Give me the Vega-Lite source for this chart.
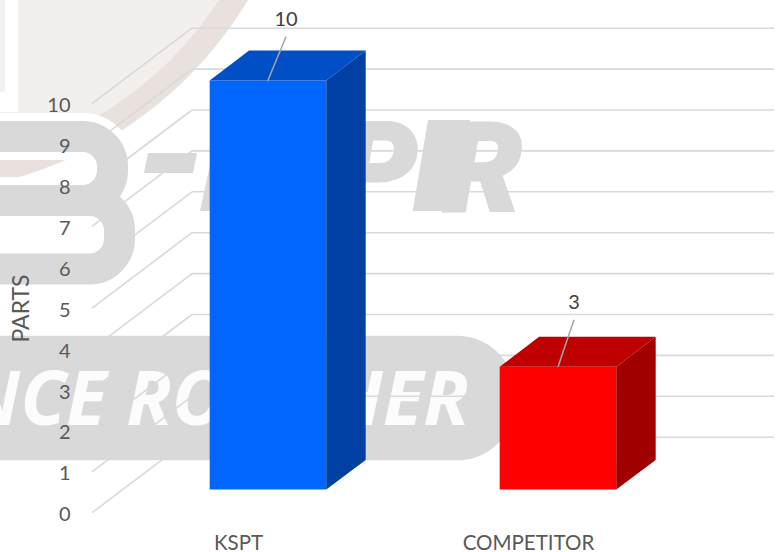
{"$schema":"https://vega.github.io/schema/vega-lite/v6.json","width":700,"height":552,"padding":{"left":78,"top":0,"right":0,"bottom":0},"autosize":{"type":"none"},"background":"white","view":{"stroke":null},
"config":{"axis":{"labelFont":"Lato","titleFont":"Lato","labelColor":"#595959","titleColor":"#595959"}},
"encoding":{"x":{"field":"x","type":"quantitative","scale":{"domain":[-0.5517,1.8621],"nice":false,"zero":false},"axis":{"values":[0,1],"labelExpr":"datum.value==0?'KSPT':'COMPETITOR'","title":null,"ticks":false,"domain":false,"grid":false,"labelFontSize":20.5,"offset":-21,"labelPadding":2,"zindex":1}},
"y":{"field":"y","type":"quantitative","scale":{"domain":[-0.9609,12.5355],"nice":false,"zero":false},"axis":{"values":[0,1,2,3,4,5,6,7,8,9,10],"title":"PARTS","titleFontSize":23,"titleFontWeight":"normal","titleX":-45,"titleY":308,"ticks":false,"domain":false,"grid":false,"labelFontSize":20,"labelPadding":8,"labelOffset":2,"zindex":1}}},
"layer":[
{"data":{"values":[{"x":-1.1345,"y":17.474}]},"mark":{"type":"point","filled":true,"size":622900,"color":"#e8e1de","opacity":1}},
{"data":{"values":[{"x":-1.1345,"y":17.474}]},"mark":{"type":"point","filled":true,"size":547600,"color":"#f2efed","opacity":1}},
{"data":{"values":[{"x":-1.3379,"x2":-0.7586,"y":12.78,"y2":9.797}]},"mark":{"type":"rect","color":"white"},"encoding":{"x2":{"field":"x2"},"y2":{"field":"y2"}}},
{"data":{"values":[{"x":-1.3379,"x2":-0.8034,"y":12.78,"y2":10.29}]},"mark":{"type":"rect","color":"#eff1f2"},"encoding":{"x2":{"field":"x2"},"y2":{"field":"y2"}}},
{"data":{"values":[{"x":-1.3379,"x2":-0.4328,"y":9.198,"y2":7.633},{"x":-1.3379,"x2":-0.4086,"y":7.633,"y2":5.958}]},"mark":{"type":"rect","fillOpacity":0,"stroke":"white","strokeWidth":47,"cornerRadius":30},"encoding":{"x2":{"field":"x2"},"y2":{"field":"y2"}}},
{"data":{"values":[{"x":-1.3379,"x2":-0.4328,"y":9.198,"y2":7.633},{"x":-1.3379,"x2":-0.4086,"y":7.633,"y2":5.958}]},"mark":{"type":"rect","fillOpacity":0,"stroke":"#d9d9d9","strokeWidth":31,"cornerRadius":30},"encoding":{"x2":{"field":"x2"},"y2":{"field":"y2"}}},
{"data":{"values":[{"x":-1.3379,"x2":0.9552,"y":4.3276,"y2":1.2812}]},"mark":{"type":"rect","color":"#d9d9d9","cornerRadiusTopRight":58,"cornerRadiusBottomRight":58},"encoding":{"x2":{"field":"x2"},"y2":{"field":"y2"}}},
{"data":{"values":[{"x":0.7966,"y":2.1443,"t":"NCE ROUGHER"}]},"mark":{"type":"text","font":"Open Sans","fontWeight":"bold","fontStyle":"italic","fontSize":75,"align":"right","baseline":"alphabetic","color":"white","opacity":0.92},"encoding":{"text":{"field":"t"}}},
{"data":{"values":[{"x":0.9793,"y":7.376,"t":"R"},{"x":0.6172,"y":7.376,"t":"P"}]},"mark":{"type":"text","font":"Roboto","fontWeight":900,"fontStyle":"italic","fontSize":124,"align":"right","baseline":"alphabetic","color":"#d9d9d9","stroke":"#d9d9d9","strokeWidth":3},"encoding":{"text":{"field":"t"}}},
{"data":{"values":[{"k":"a","y":8.795,"x":-0.3103,"x2":-0.1414},{"k":"a","y":8.306,"x":-0.3241,"x2":-0.1552},{"k":"b","y":8.501,"x":-0.0966,"x2":0.0414},{"k":"b","y":7.376,"x":-0.131,"x2":0.0069},{"k":"c","y":9.601,"x":0.6552,"x2":0.8},{"k":"c","y":7.376,"x":0.6024,"x2":0.7483}]},"mark":{"type":"area","orient":"horizontal","color":"#d9d9d9"},"encoding":{"x2":{"field":"x2"},"detail":{"field":"k"}}},
{"data":{"values":[
{"x":-0.5034,"x2":-0.1586,"y":0,"y2":1.846},{"x":-0.5034,"x2":-0.1586,"y":1,"y2":2.846},{"x":-0.5034,"x2":-0.1586,"y":2,"y2":3.846},{"x":-0.5034,"x2":-0.1586,"y":3,"y2":4.846},{"x":-0.5034,"x2":-0.1586,"y":4,"y2":5.846},{"x":-0.5034,"x2":-0.1586,"y":5,"y2":6.846},{"x":-0.5034,"x2":-0.1586,"y":6,"y2":7.846},{"x":-0.5034,"x2":-0.1586,"y":7,"y2":8.846},{"x":-0.5034,"x2":-0.1586,"y":8,"y2":9.846},{"x":-0.5034,"x2":-0.1586,"y":9,"y2":10.846},{"x":-0.5034,"x2":-0.1586,"y":10,"y2":11.846},
{"x":-0.1586,"x2":1.848,"y":1.846,"y2":1.846},{"x":-0.1586,"x2":1.848,"y":2.846,"y2":2.846},{"x":-0.1586,"x2":1.848,"y":3.846,"y2":3.846},{"x":-0.1586,"x2":1.848,"y":4.846,"y2":4.846},{"x":-0.1586,"x2":1.848,"y":5.846,"y2":5.846},{"x":-0.1586,"x2":1.848,"y":6.846,"y2":6.846},{"x":-0.1586,"x2":1.848,"y":7.846,"y2":7.846},{"x":-0.1586,"x2":1.848,"y":8.846,"y2":8.846},{"x":-0.1586,"x2":1.848,"y":9.846,"y2":9.846},{"x":-0.1586,"x2":1.848,"y":10.846,"y2":10.846},{"x":-0.1586,"x2":1.848,"y":11.846,"y2":11.846}]},
"mark":{"type":"rule","color":"#d9d9d9","strokeWidth":1.6},"encoding":{"x2":{"field":"x2"},"y2":{"field":"y2"}}},
{"data":{"values":[{"name":"KSPT","parts":10,"x":-0.0976,"x2":0.3044,"y":10.567,"y2":0.567},{"name":"COMPETITOR","parts":3,"x":0.9024,"x2":1.3044,"y":3.567,"y2":0.567}]},"mark":{"type":"rect"},"encoding":{"x2":{"field":"x2"},"y2":{"field":"y2"},"color":{"field":"name","type":"nominal","scale":{"domain":["KSPT","COMPETITOR"],"range":["#0066ff","#ff0000"]},"legend":null}}},
{"data":{"values":[{"f":"KSPT side","x":0.3044,"y":10.567,"y2":0.567},{"f":"KSPT side","x":0.4403,"y":11.301,"y2":1.289},{"f":"COMP side","x":1.3044,"y":3.567,"y2":0.567},{"f":"COMP side","x":1.4403,"y":4.301,"y2":1.289}]},"mark":{"type":"area","orient":"vertical"},"encoding":{"y2":{"field":"y2"},"fill":{"field":"f","type":"nominal","scale":{"domain":["KSPT side","COMP side","KSPT top","COMP top"],"range":["#0040a3","#a00000","#004fc6","#bf0000"]},"legend":null}}},
{"data":{"values":[{"f":"KSPT top","y":10.567,"x":-0.0976,"x2":0.3044},{"f":"KSPT top","y":11.301,"x":0.0383,"x2":0.4403},{"f":"COMP top","y":3.567,"x":0.9024,"x2":1.3044},{"f":"COMP top","y":4.301,"x":1.0383,"x2":1.4403}]},"mark":{"type":"area","orient":"horizontal"},"encoding":{"x2":{"field":"x2"},"fill":{"field":"f","type":"nominal","legend":null}}},
{"data":{"values":[{"x":0.1024,"x2":0.1655,"y":10.555,"y2":11.638},{"x":1.1034,"x2":1.1586,"y":3.562,"y2":4.719}]},"mark":{"type":"rule","color":"#a6a6a6","strokeWidth":1.5},"encoding":{"x2":{"field":"x2"},"y2":{"field":"y2"}}},
{"data":{"values":[{"x":0.1655,"y":11.638,"parts":10},{"x":1.1586,"y":4.719,"parts":3}]},"mark":{"type":"text","font":"Lato","fontSize":20,"dy":-17,"color":"#404040"},"encoding":{"text":{"field":"parts","type":"quantitative"}}}
]}
